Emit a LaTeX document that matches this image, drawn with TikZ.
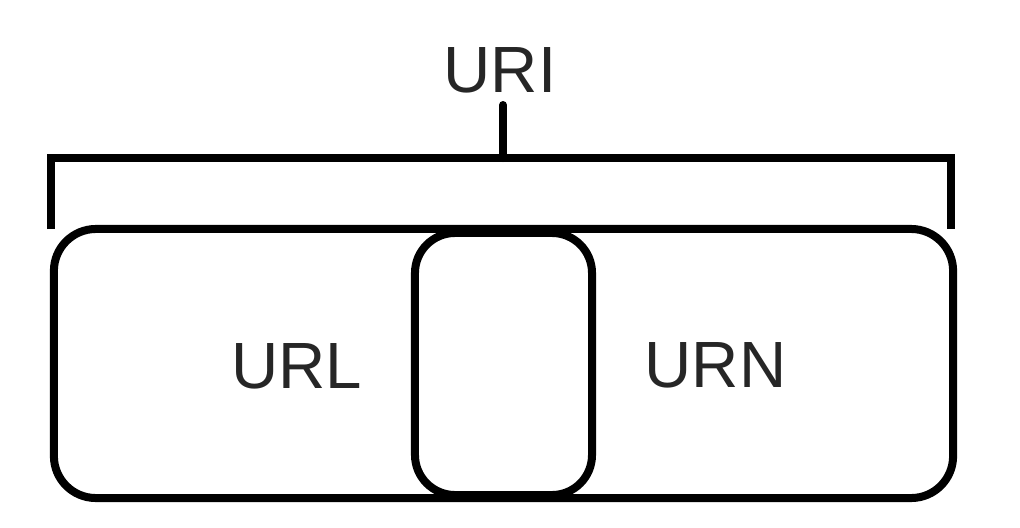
\documentclass[tikz,border=0pt]{standalone}
\usepackage{fontspec}
\setmainfont{Liberation Sans}
\begin{document}
\begin{tikzpicture}[
    x=0.025cm, y=-0.025cm,
    outer set/.style={rectangle, draw, line width=0.2cm, rounded corners=1.05cm, minimum width=22.475cm, minimum height=6.725cm},
    overlap set/.style={rectangle, draw, line width=0.2cm, rounded corners=1cm, minimum width=4.425cm, minimum height=6.55cm},
    set name/.style={font=\fontsize{46.5}{50}\selectfont, text=black!85, anchor=base, inner sep=0pt},
    brace/.style={line width=0.2cm, line cap=round}
]
\useasboundingbox (0,0) rectangle (1020,527);

% Title
\node[set name] (uri) at (500,92) {URI};

% Sets
\node[outer set] (all) at (503.5,363.5) {};
\node[overlap set] (both) at (503.5,364) {};

% Set labels
\node[set name] (url) at (296.5,388) {URL};
\node[set name] (urn) at (715.5,387) {URN};

% Bracket
\coordinate (tick top) at (503,105);
\coordinate (tick foot) at (503,158);
\coordinate (left end) at (51,229);
\coordinate (right end) at (951,229);
\draw[brace] (tick top) -- (tick foot);
\draw[brace, line cap=butt] (left end) |- (tick foot) -| (right end);
\end{tikzpicture}
\end{document}
